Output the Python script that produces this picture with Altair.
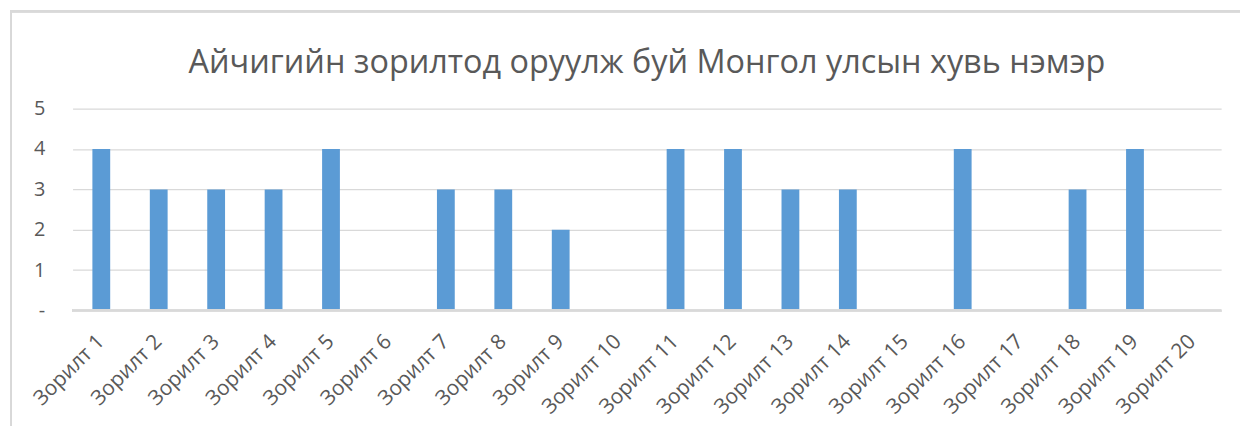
import altair as alt
import pandas as pd

categories = [f"Зорилт {i}" for i in range(1, 21)]
values = [4, 3, 3, 3, 4, 0, 3, 3, 2, 0, 4, 4, 3, 3, 0, 4, 0, 3, 4, 0]
title_text = "Айчигийн зорилтод оруулж буй Монгол улсын хувь нэмэр"

df = pd.DataFrame({"cat": categories, "val": values})
tdf = pd.DataFrame({"t": [title_text]})

FONT = "Open Sans"
GRAY = "#595959"

x_enc = alt.X("cat:N", sort=categories, title=None,
              scale=alt.Scale(paddingInner=0.69, paddingOuter=0.345),
              axis=alt.Axis(labelAngle=-45, labelFontSize=21, labelColor=GRAY,
                            labelFont=FONT, ticks=False, domain=False,
                            labelPadding=28, labelAlign="right", labelBaseline="middle"))
y_enc = alt.Y("val:Q", title=None, scale=alt.Scale(domain=[0, 5]),
              axis=alt.Axis(values=[0, 1, 2, 3, 4, 5], labelExpr="datum.value == 0 ? '-' : datum.label",
                            labelFontSize=20, labelColor=GRAY, labelFont=FONT,
                            ticks=False, domain=False, labelPadding=28,
                            gridColor="#d9d9d9", gridWidth=1.3))

bars = alt.Chart(df).mark_bar(color="#5B9BD5").encode(x=x_enc, y=y_enc)

zero = alt.Chart(df).mark_rule(color="#d9d9d9", strokeWidth=1.5).encode(
    x=alt.value(0), x2=alt.value(1156), y=alt.value(203))

border = alt.Chart(df).mark_rect(fill=None, stroke="#d9d9d9", strokeWidth=2, clip=False).encode(
    x=alt.value(-62), x2=alt.value(1250), y=alt.value(-98), y2=alt.value(340))

title = alt.Chart(tdf).mark_text(font=FONT, fontSize=32.6, color=GRAY, align="center",
                                 baseline="middle").encode(
    text="t:N", x=alt.value(578), y=alt.value(-46))

chart = alt.layer(border, bars, zero, title).properties(
    width=1156, height=203,
    autosize=alt.AutoSizeParams(type="none"),
    padding={"left": 65, "top": 100, "right": 19, "bottom": 115},
).configure_view(stroke=None)

chart.save("out.html", embed_options={"renderer": "svg", "actions": False})
